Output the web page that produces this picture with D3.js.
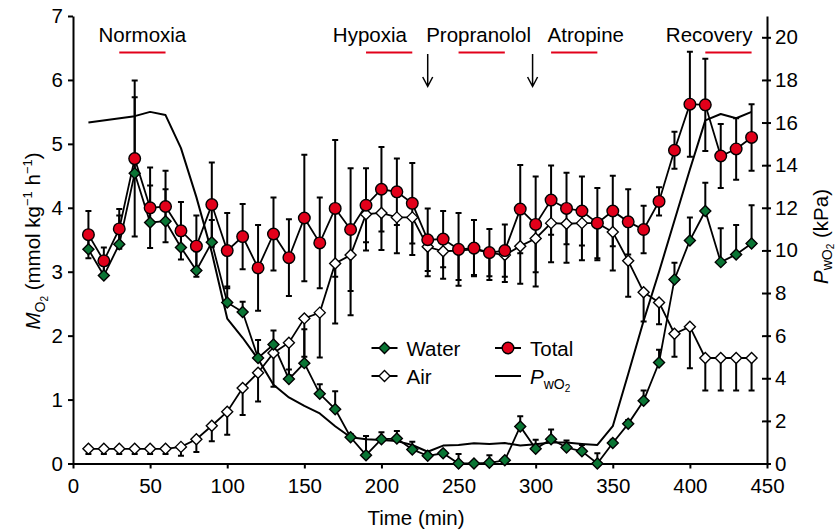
<!DOCTYPE html>
<html>
<head>
<meta charset="utf-8">
<script src="https://cdn.jsdelivr.net/npm/d3@7"></script>
<style>
  body { margin: 0; background: #fff; }
  svg { display: block; font-family: 'Liberation Sans', Arial, Helvetica, sans-serif; }
</style>
</head>
<body>
<script>
// sampling times (min)
const times = [10, 20, 30, 40, 50, 60, 70, 80, 90, 100, 110, 120, 130, 140, 150, 160, 170, 180, 190, 200, 210, 220,
  230, 240, 250, 260, 270, 280, 290, 300, 310, 320, 330, 340, 350, 360, 370, 380, 390, 400, 410, 420, 430, 440];

// MO2 (mmol kg-1 h-1), means and s.e.m.
const total = [3.58, 3.17, 3.67, 4.77, 4.00, 4.02, 3.64, 3.40, 4.05, 3.33, 3.55, 3.06, 3.59, 3.22, 3.84, 3.45, 3.99, 3.66, 4.04, 4.29, 4.25, 4.07,
  3.50, 3.51, 3.35, 3.37, 3.30, 3.33, 3.98, 3.74, 4.12, 3.99, 3.95, 3.76, 3.95, 3.78, 3.66, 4.10, 4.90, 5.62, 5.61, 4.81, 4.92, 5.10];
const totalSE = [0.37, 0.21, 0.31, 1.22, 0.63, 0.56, 0.45, 0.48, 0.66, 0.59, 0.51, 0.67, 0.57, 0.60, 0.99, 0.71, 1.07, 0.96, 0.58, 0.66, 0.52, 0.63,
  0.49, 0.44, 0.57, 0.44, 0.37, 0.41, 0.69, 0.75, 0.54, 0.56, 0.54, 0.55, 0.55, 0.51, 0.37, 0.22, 0.29, 0.82, 0.72, 0.50, 0.48, 0.52];

const water = [3.35, 2.94, 3.43, 4.54, 3.77, 3.79, 3.38, 3.02, 3.46, 2.52, 2.37, 1.65, 1.86, 1.32, 1.57, 1.09, 0.85, 0.41, 0.13, 0.38, 0.39, 0.22,
  0.12, 0.16, 0.00, 0.00, 0.01, 0.05, 0.58, 0.23, 0.38, 0.25, 0.19, 0.00, 0.32, 0.62, 0.98, 1.58, 2.88, 3.49, 3.95, 3.15, 3.27, 3.44];
const waterSE = [0.20, 0.20, 0.45, 1.19, 0.58, 0.50, 0.30, 0.30, 0.35, 0.25, 0.16, 0.28, 0.22, 0.15, 0.53, 0.15, 0.28, 0.05, 0.30, 0.11, 0.12, 0.12,
  0.04, 0.04, 0.15, 0.04, 0.12, 0.04, 0.16, 0.14, 0.15, 0.11, 0.10, 0.16, 0.05, 0.06, 0.16, 0.20, 0.26, 0.36, 0.44, 0.53, 0.46, 0.60];

const air = [0.23, 0.23, 0.23, 0.23, 0.23, 0.23, 0.26, 0.38, 0.59, 0.81, 1.18, 1.42, 1.73, 1.89, 2.27, 2.36, 3.13, 3.26, 3.90, 3.92, 3.85, 3.85,
  3.39, 3.32, 3.33, 3.35, 3.30, 3.26, 3.40, 3.52, 3.76, 3.75, 3.76, 3.76, 3.62, 3.17, 2.68, 2.52, 2.03, 2.14, 1.65, 1.65, 1.65, 1.65];
const airSE = [0.08, 0.08, 0.08, 0.08, 0.08, 0.08, 0.14, 0.20, 0.24, 0.36, 0.42, 0.45, 0.53, 0.51, 0.60, 0.70, 0.94, 0.94, 0.57, 0.58, 0.56, 0.59,
  0.46, 0.43, 0.46, 0.40, 0.43, 0.42, 0.59, 0.75, 0.61, 0.61, 0.58, 0.58, 0.60, 0.56, 0.46, 0.34, 0.36, 0.65, 0.51, 0.51, 0.51, 0.51];

// water PO2 (kPa)
const pTimes = [10, 40, 50, 60, 70, 80, 90, 100, 110, 120, 130, 140, 150, 160, 170, 180, 190, 200, 210, 220,
  230, 240, 250, 260, 270, 280, 290, 300, 310, 320, 330, 340, 350, 360, 370, 380, 390, 400, 410, 420, 430, 440];
const pwo2 = [16.0, 16.3, 16.5, 16.35, 14.8, 12.5, 9.9, 6.8, 5.9, 4.9, 3.7, 3.1, 2.7, 2.35, 1.75, 1.23, 1.14, 1.1, 1.05, 0.87,
  0.55, 0.84, 0.87, 0.95, 0.92, 0.96, 0.84, 0.9, 0.98, 0.98, 0.92, 0.87, 1.75, 4.2, 6.7, 9.0, 11.4, 13.8, 16.1, 16.4, 16.2, 16.5];

// protocol phases
const phases = ['Normoxia', 'Hypoxia', 'Propranolol', 'Atropine', 'Recovery'];
const phaseStart = [30, 190, 250, 310, 410];
const phaseEnd = [60, 220, 280, 340, 440];
const phaseLabelAt = [45, 192.5, 263, 332.5, 412.5];
const injections = [230, 298];

const width = 838;
const height = 531;
const margin = { top: 16, right: 71, bottom: 67.5, left: 73 };
const font = 20.5;
const red = '#e2001a';
const green = '#0a7534';

const x = d3.scaleLinear().domain([0, 450]).range([margin.left, width - margin.right]);
const y = d3.scaleLinear().domain([0, 7]).range([height - margin.bottom, margin.top]);
const yP = d3.scaleLinear().domain([0, 21]).range(y.range());

const svg = d3.select('body').append('svg')
  .attr('width', width)
  .attr('height', height);

// axes
svg.append('g')
  .attr('transform', `translate(0,${height - margin.bottom})`)
  .call(d3.axisBottom(x).ticks(9).tickSize(5).tickPadding(10).tickSizeOuter(0));

svg.append('g')
  .attr('transform', `translate(${margin.left},0)`)
  .call(d3.axisLeft(y).ticks(7).tickSize(5).tickPadding(5).tickSizeOuter(0));

svg.append('g')
  .attr('transform', `translate(${width - margin.right},0)`)
  .call(d3.axisRight(yP).tickValues(d3.range(0, 21, 2)).tickSize(4).tickPadding(4).tickSizeOuter(0))
  .call(g => g.selectAll('.tick line').attr('x1', -5));

svg.selectAll('.domain, .tick line')
  .attr('stroke', '#000')
  .attr('stroke-width', 2);
svg.selectAll('.tick text')
  .attr('font-size', font)
  .attr('font-family', null)
  .attr('fill', '#000');

// axis titles
svg.append('text')
  .attr('x', (x.range()[0] + x.range()[1]) / 2 - 4)
  .attr('y', 525)
  .attr('text-anchor', 'middle')
  .attr('font-size', font)
  .text('Time (min)');

const yTitle = svg.append('text')
  .attr('transform', 'translate(40,241) rotate(-90)')
  .attr('text-anchor', 'middle')
  .attr('font-size', font);
yTitle.append('tspan').attr('font-style', 'italic').text('M');
yTitle.append('tspan').attr('font-size', 14).attr('dy', 5).text('O');
yTitle.append('tspan').attr('font-size', 10).attr('dy', 3).text('2');
yTitle.append('tspan').attr('dy', -8).text(' (mmol kg');
yTitle.append('tspan').attr('font-size', 13).attr('dy', -8).text('−1');
yTitle.append('tspan').attr('dy', 8).text(' h');
yTitle.append('tspan').attr('font-size', 13).attr('dy', -8).text('−1');
yTitle.append('tspan').attr('dy', 8).text(')');

const pTitle = svg.append('text')
  .attr('transform', 'translate(828,236.5) rotate(-90)')
  .attr('text-anchor', 'middle')
  .attr('font-size', font);
pTitle.append('tspan').attr('font-style', 'italic').text('P');
pTitle.append('tspan').attr('font-size', 14).attr('dy', 4).text('wO');
pTitle.append('tspan').attr('font-size', 10).attr('dy', 2).text('2');
pTitle.append('tspan').attr('dy', -6).text(' (kPa)');

// phase labels, bars and injection arrows
svg.append('g')
  .attr('font-size', font)
  .attr('text-anchor', 'middle')
  .selectAll('text')
  .data(phases)
  .join('text')
  .attr('x', (d, i) => x(phaseLabelAt[i]))
  .attr('y', 42)
  .text(d => d);

svg.append('g')
  .attr('stroke', red)
  .attr('stroke-width', 2)
  .selectAll('line')
  .data(phases)
  .join('line')
  .attr('x1', (d, i) => x(phaseStart[i]))
  .attr('x2', (d, i) => x(phaseEnd[i]))
  .attr('y1', 52.5)
  .attr('y2', 52.5);

svg.append('g')
  .attr('fill', 'none')
  .attr('stroke', '#000')
  .attr('stroke-width', 1.5)
  .selectAll('path')
  .data(injections)
  .join('path')
  .attr('d', d => `M${x(d)},54V86.5M${x(d) - 5},77L${x(d)},86.5L${x(d) + 5},77`);

// error bars: dir 1 = up only, -1 = down only, 0 = both
const cap = 3;
function errorBars(means, se, dir) {
  return svg.append('g')
    .attr('fill', 'none')
    .attr('stroke', '#000')
    .attr('stroke-width', 2)
    .selectAll('path')
    .data(means)
    .join('path')
    .attr('d', (m, i) => {
      const cx = x(times[i]);
      const hi = y(dir < 0 ? m : m + se[i]);
      const lo = y(dir > 0 ? m : Math.max(0, m - se[i]));
      let p = `M${cx},${lo}V${hi}`;
      if (dir >= 0) p += `M${cx - cap},${hi}H${cx + cap}`;
      if (dir <= 0) p += `M${cx - cap},${lo}H${cx + cap}`;
      return p;
    });
}

const line = d3.line()
  .x((d, i) => x(times[i]))
  .y(d => y(d));

const diamond = 'M0,-5.5L5.5,0L0,5.5L-5.5,0Z';

// PwO2 trace
svg.append('path')
  .attr('fill', 'none')
  .attr('stroke', '#000')
  .attr('stroke-width', 2)
  .attr('stroke-linejoin', 'round')
  .attr('d', d3.line().x((d, i) => x(pTimes[i])).y(d => yP(d))(pwo2));

errorBars(air, airSE, -1);
errorBars(water, waterSE, 1);
errorBars(total, totalSE, 0);

[air, water, total].forEach((s) => {
  svg.append('path')
    .attr('fill', 'none')
    .attr('stroke', '#000')
    .attr('stroke-width', 1.8)
    .attr('d', line(s));
});

svg.append('g')
  .selectAll('path')
  .data(air)
  .join('path')
  .attr('transform', (d, i) => `translate(${x(times[i])},${y(d)})`)
  .attr('d', diamond)
  .attr('fill', '#fff')
  .attr('stroke', '#000')
  .attr('stroke-width', 1.4);

svg.append('g')
  .selectAll('path')
  .data(water)
  .join('path')
  .attr('transform', (d, i) => `translate(${x(times[i])},${y(d)})`)
  .attr('d', diamond)
  .attr('fill', green)
  .attr('stroke', '#000')
  .attr('stroke-width', 1.4);

svg.append('g')
  .selectAll('circle')
  .data(total)
  .join('circle')
  .attr('cx', (d, i) => x(times[i]))
  .attr('cy', d => y(d))
  .attr('r', 5.8)
  .attr('fill', red)
  .attr('stroke', '#000')
  .attr('stroke-width', 1.4);

// legend
const legend = svg.append('g').attr('font-size', font);
const items = [
  { label: 'Water', lx: 371.5, ly: 348, kind: 'water' },
  { label: 'Total', lx: 495, ly: 348, kind: 'total' },
  { label: 'Air', lx: 371.5, ly: 376, kind: 'air' },
  { label: 'P', lx: 495, ly: 376, kind: 'p' },
];
items.forEach((it) => {
  const g = legend.append('g').attr('transform', `translate(${it.lx},${it.ly})`);
  g.append('line')
    .attr('x1', 0).attr('x2', 26)
    .attr('stroke', '#000')
    .attr('stroke-width', 2);
  if (it.kind === 'total') {
    g.append('circle').attr('cx', 13).attr('r', 5.8)
      .attr('fill', red).attr('stroke', '#000').attr('stroke-width', 1.4);
  } else if (it.kind !== 'p') {
    g.append('path').attr('transform', 'translate(13,0)').attr('d', diamond)
      .attr('fill', it.kind === 'water' ? green : '#fff')
      .attr('stroke', '#000').attr('stroke-width', 1.4);
  }
  const t = g.append('text').attr('x', 35).attr('y', 7.5);
  if (it.kind === 'p') {
    t.append('tspan').attr('font-style', 'italic').text('P');
    t.append('tspan').attr('font-size', 14).attr('dy', 5).text('wO');
    t.append('tspan').attr('font-size', 10).attr('dy', 3).text('2');
  } else {
    t.text(it.label);
  }
});
</script>
</body>
</html>
